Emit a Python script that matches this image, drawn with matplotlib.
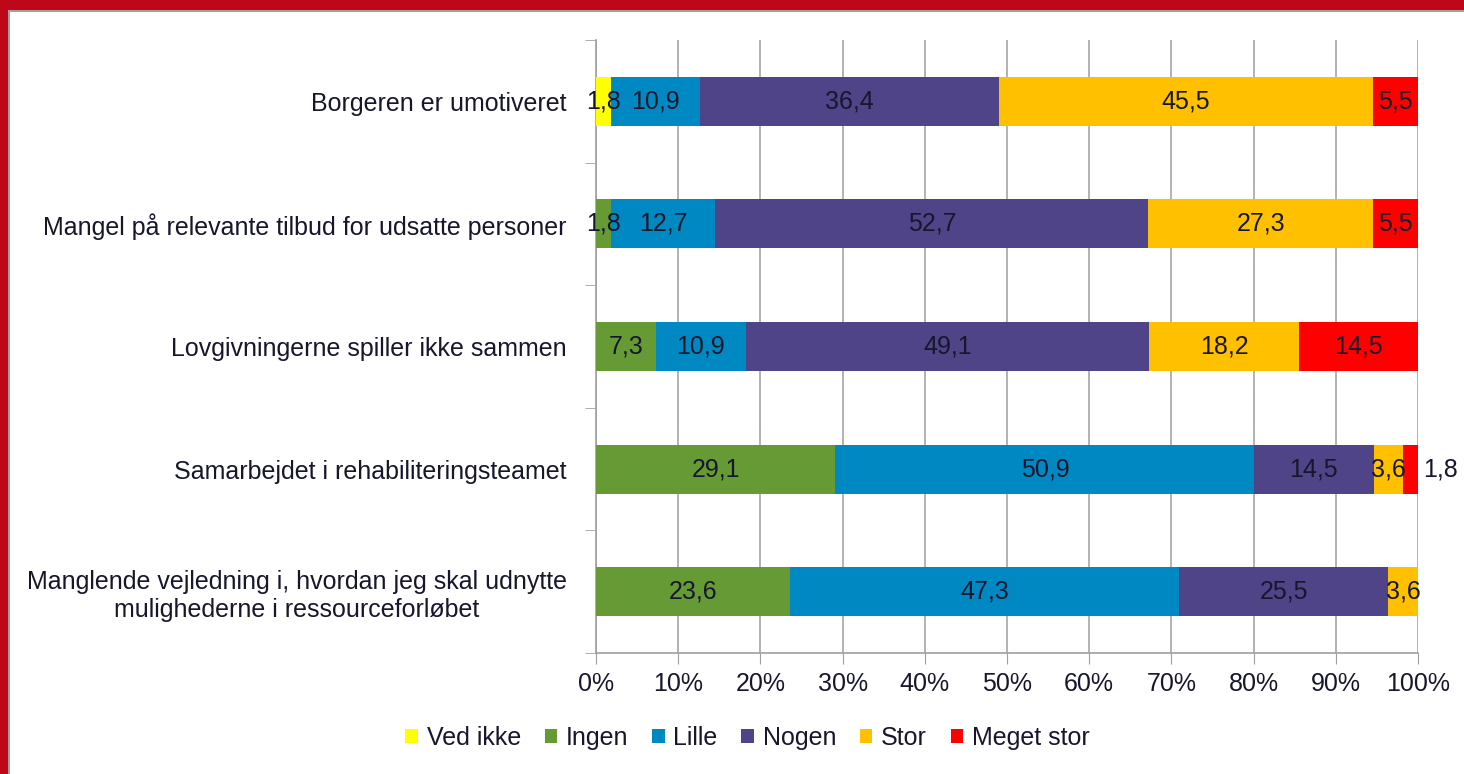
import matplotlib
matplotlib.use("Agg")
import matplotlib.pyplot as plt
from matplotlib.patches import Patch, Rectangle
import numpy as np

plt.rcParams['font.family'] = ['Liberation Sans', 'DejaVu Sans']

categories = [
    "Borgeren er umotiveret",
    "Mangel på relevante tilbud for udsatte personer",
    "Lovgivningerne spiller ikke sammen",
    "Samarbejdet i rehabiliteringsteamet",
    "Manglende vejledning i, hvordan jeg skal udnytte\nmulighederne i ressourceforløbet",
]
series_names = ["Ved ikke", "Ingen", "Lille", "Nogen", "Stor", "Meget stor"]
ved_ikke   = [1.8, 0.0, 0.0, 0.0, 0.0]
ingen      = [0.0, 1.8, 7.3, 29.1, 23.6]
lille      = [10.9, 12.7, 10.9, 50.9, 47.3]
nogen      = [36.4, 52.7, 49.1, 14.5, 25.5]
stor       = [45.5, 27.3, 18.2, 3.6, 3.6]
meget_stor = [5.5, 5.5, 14.5, 1.8, 0.0]
colors = ["#FFFF00", "#669A34", "#0088C2", "#4F4487", "#FFC000", "#FF0000"]
xtick_labels = ["0%", "10%", "20%", "30%", "40%", "50%", "60%", "70%", "80%", "90%", "100%"]

series = [ved_ikke, ingen, lille, nogen, stor, meget_stor]
data = np.array(series, dtype=float)
totals = data.sum(axis=0)
pct = data / totals * 100

TXT = "#17172c"
W, H = 1464, 774
fig = plt.figure(figsize=(W / 100, H / 100), dpi=100)
fig.patch.set_facecolor("white")

# frame (red border top/left with grey inner line)
fig.patches.append(Rectangle((0, 1 - 10 / H), 1, 10 / H, transform=fig.transFigure,
                             facecolor="#BE0819", edgecolor="none", zorder=0))
fig.patches.append(Rectangle((0, 0), 8 / W, 1, transform=fig.transFigure,
                             facecolor="#BE0819", edgecolor="none", zorder=0))
fig.patches.append(Rectangle((8 / W, 1 - 12 / H), 1, 2 / H, transform=fig.transFigure,
                             facecolor="#A0A0A0", edgecolor="none", zorder=0))
fig.patches.append(Rectangle((8 / W, 0), 2 / W, 1 - 10 / H, transform=fig.transFigure,
                             facecolor="#A0A0A0", edgecolor="none", zorder=0))

left, right, top, bottom = 596 / W, 1418 / W, 1 - 40 / H, 1 - 653 / H
ax = fig.add_axes([left, bottom, right - left, top - bottom])

n = len(categories)
ypos = np.arange(n)
lefts = np.zeros(n)
LBL = 18
for i, name in enumerate(series_names):
    ax.barh(ypos, pct[i], left=lefts, height=0.4, color=colors[i], label=name, zorder=3)
    for j in range(n):
        v = data[i, j]
        if v <= 0:
            continue
        lab = f"{v:.1f}".replace(".", ",")
        if name == "Meget stor" and j == 3:
            ax.annotate(lab, (lefts[j] + pct[i, j], ypos[j]), xytext=(4, 0),
                        textcoords="offset points", ha="left", va="center",
                        fontsize=LBL, color=TXT, zorder=4)
        else:
            ax.text(lefts[j] + pct[i, j] / 2, ypos[j], lab, ha="center", va="center",
                    fontsize=LBL, color=TXT, zorder=4)
    lefts += pct[i]

ax.set_xlim(0, 100)
ax.set_ylim(n - 0.5, -0.5)
ax.set_xticks(np.arange(0, 101, 10))
ax.set_xticklabels(xtick_labels, fontsize=18, color=TXT)
ax.set_yticks(ypos)
ax.set_yticklabels(categories, fontsize=18, color=TXT, multialignment="center",
                   linespacing=1.2)
ax.set_yticks(np.arange(-0.5, n, 1), minor=True)
ax.tick_params(axis="y", which="major", length=0, pad=21)
ax.tick_params(axis="y", which="minor", length=8, color="#A0A0A0", direction="out")
ax.tick_params(axis="x", which="major", length=8, color="#A0A0A0", direction="out", pad=6)

ax.grid(axis="x", color="#A6A6A6", linewidth=1.2, zorder=0)
ax.set_axisbelow(True)
for s in ["top", "right"]:
    ax.spines[s].set_visible(False)
for s in ["left", "bottom"]:
    ax.spines[s].set_color("#A0A0A0")
    ax.spines[s].set_linewidth(1.2)

handles = [Patch(facecolor=c, edgecolor="none") for c in colors]
fig.legend(handles, series_names, loc="center", bbox_to_anchor=(0.5106, 1 - 738 / H),
           ncol=6, frameon=False, fontsize=18, handlelength=0.5, handleheight=0.5,
           handletextpad=0.35, columnspacing=0.95, labelcolor=TXT)

fig.savefig("out.png", dpi=100, facecolor="white")
